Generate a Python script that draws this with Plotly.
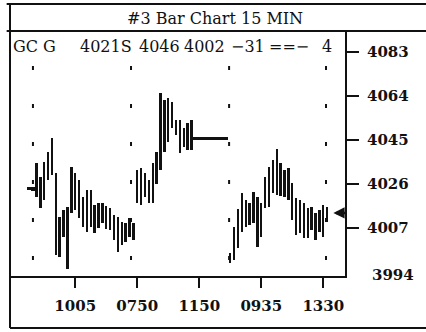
import plotly.graph_objects as go

# ---------------- data ----------------
bar_index = list(range(4, 82))
lows = [4023.4, 4022.8, 4020.4, 4015.6, 4019.1, 4027.7, 4030.0, 3995.3, 3994.5, 4003.0,
        3989.5, 4013.5, 4014.8, 4011.5, 4007.4, 4005.3, 4007.4, 4005.0, 4007.0, 4009.0,
        4006.5, 4006.0, 4001.8, 3996.6, 3999.7, 4001.0, 4003.0, 4002.0,
        4017.8, 4017.0, 4020.4, 4018.0, 4018.0, 4026.0, 4032.0, 4039.8, 4044.0, 4050.0,
        4047.0, 4039.4, 4042.0, 4040.7, 4040.7,
        4045.0, 4045.0, 4045.0, 4045.0, 4045.0, 4045.0, 4045.0, 4045.0, 4045.0,
        3992.0, 3993.2, 3998.4, 4005.3, 4007.4, 4008.3, 4009.2, 3998.8, 4003.0, 4015.6,
        4016.0, 4022.0, 4021.2, 4021.0, 4020.4, 4019.0, 4010.5, 4004.0, 4005.0, 4002.7,
        4002.7, 4006.0, 4001.8, 4005.3, 4003.0, 4009.6]
highs = [4024.6, 4024.6, 4035.1, 4029.0, 4035.5, 4039.8, 4046.0, 4030.7, 4011.7, 4014.8,
         4016.1, 4033.3, 4030.7, 4027.7, 4020.4, 4023.4, 4023.4, 4017.0, 4018.0, 4018.0,
         4016.5, 4015.6, 4012.6, 4011.7, 4009.6, 4009.2, 4011.3, 4009.0,
         4032.0, 4033.0, 4030.7, 4027.7, 4035.0, 4040.0, 4065.3, 4062.3, 4063.0, 4061.4,
         4053.6, 4053.6, 4050.0, 4052.3, 4053.6,
         4046.2, 4046.2, 4046.2, 4046.2, 4046.2, 4046.2, 4046.2, 4046.2, 4046.2,
         3996.0, 4007.4, 4015.0, 4022.1, 4019.1, 4017.8, 4022.5, 4020.4, 4017.8, 4029.0,
         4033.3, 4036.4, 4041.0, 4035.0, 4032.0, 4033.0, 4026.4, 4020.0, 4019.0, 4017.8,
         4015.6, 4016.0, 4013.5, 4014.8, 4017.0, 4016.0]
x_tick_pos = [16, 32, 48, 64, 80]
x_tick_labels = ["1005", "0750", "1150", "0935", "1330"]
y_tick_vals = [4083, 4064, 4045, 4026, 4007]
bottom_label = "3994"
day_marks = [5.1, 30.4, 55.7, 80.7]
last_price = 4013.5
title_text = "#3 Bar Chart 15 MIN"
header_items = ["GC G", "4021S", "4046", "4002", "\u221231", "==\u2212", "4"]

# ---------------- styling ----------------
FONT = "DejaVu Serif"
INK = "#111111"
header_x = [0.003, 0.203, 0.379, 0.513, 0.655, 0.768, 0.925]

def tfont(bold):
    if bold:
        return dict(family=FONT, size=15, color=INK, weight="bold")
    return dict(family=FONT, size=16, color=INK)

ranges = [h - l for h, l in zip(highs, lows)]
widths = [1.0 if r < 2 else 0.62 for r in ranges]

fig = go.Figure()
fig.add_trace(go.Bar(x=bar_index, y=ranges, base=lows, width=widths,
                     marker=dict(color=INK, line=dict(width=0)), hoverinfo="skip"))

shapes = []
for d in day_marks:
    shapes.append(dict(type="line", xref="x", yref="y", x0=d, x1=d, y0=4077, y1=3986,
                       line=dict(color=INK, width=2, dash="4px,34px")))
frame = dict(color=INK, width=2)
shapes += [
    dict(type="line", xref="paper", yref="paper", x0=-0.01, x1=1.25, y0=1.1098, y1=1.1098, line=frame),
    dict(type="line", xref="paper", yref="paper", x0=-0.01, x1=1.25, y0=1.0, y1=1.0, line=frame),
    dict(type="line", xref="paper", yref="paper", x0=0, x1=0, y0=-0.2073, y1=1.1098, line=frame),
    dict(type="line", xref="paper", yref="paper", x0=0, x1=1.006, y0=0, y1=0, line=frame),
    dict(type="line", xref="paper", yref="paper", x0=0, x1=1.25, y0=-0.2073, y1=-0.2073, line=frame),
]

annotations = [
    dict(text=title_text, xref="paper", yref="paper", x=0.612, y=1.0488, showarrow=False,
         xanchor="center", yanchor="middle", font=tfont(False)),
    dict(text=bottom_label, xref="paper", yref="paper", x=1.0746, y=0.008, showarrow=False,
         xanchor="left", yanchor="middle", font=tfont(True)),
    dict(text="", x=82.6, y=last_price, xref="x", yref="y", ax=15, ay=0, showarrow=True,
         arrowhead=2, arrowsize=0.9, arrowwidth=2.5, arrowcolor=INK),
]
for txt, xp in zip(header_items, header_x):
    annotations.append(dict(text=txt, xref="paper", yref="paper", x=xp, y=0.935, showarrow=False,
                            xanchor="left", yanchor="middle", font=tfont(False)))

fig.update_layout(width=426, height=332, margin=dict(l=10, r=81, t=31, b=55),
                  paper_bgcolor="white", plot_bgcolor="white", showlegend=False,
                  shapes=shapes, annotations=annotations, bargap=0)
fig.update_xaxes(range=[-0.82, 85.6], tickmode="array", tickvals=x_tick_pos, ticktext=x_tick_labels,
                 ticks="outside", ticklen=10, tickwidth=2, tickcolor=INK, showgrid=False,
                 zeroline=False, showline=False, ticklabelstandoff=5, tickfont=tfont(True))
fig.update_yaxes(range=[3985.84, 4092.06], side="right", tickmode="array", tickvals=y_tick_vals,
                 ticks="outside", ticklen=12, tickwidth=2, tickcolor=INK, showline=True,
                 linecolor=INK, linewidth=2, showgrid=False, zeroline=False, ticklabelstandoff=5,
                 tickfont=tfont(True))

fig.write_html("out.html", config={"displayModeBar": False},
               post_script="document.body.style.margin='0';")
